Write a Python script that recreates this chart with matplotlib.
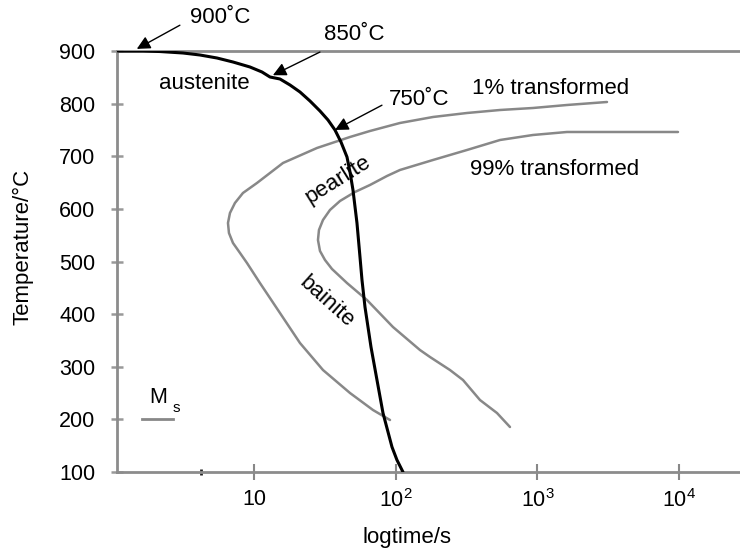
import matplotlib
matplotlib.use("Agg")
import matplotlib.pyplot as plt

# ---- data ----
# cooling curve (time s, temperature °C)
cool_t = [1.097, 1.647, 2.171, 3.155, 4.158, 5.482, 7.108, 9.371, 11.39, 12.97, 15.26,
          17.96, 21.12, 24.85, 29.23, 33.29, 37.29, 41.11, 45.33, 47.60, 49.96, 53.31,
          55.99, 57.84, 60.73, 66.96, 73.80, 81.36, 94.18, 102.1, 112.6]
cool_T = [900, 900, 899, 896.2, 892.4, 886.7, 879.1, 869.6, 860.1, 850.6, 846.8,
          835.4, 822.1, 805.0, 786.0, 768.9, 749.9, 727.1, 698.6, 670.1, 635.9, 573.2,
          508.6, 464.9, 413.5, 337.5, 274.8, 212.1, 147.5, 122.8, 100]

# 1 % transformed curve
start_t = [3099, 1618, 931, 545, 318.6, 183.4, 107.2, 65.87, 47.60, 27.84, 16.02,
           10.50, 8.36, 7.34, 6.77, 6.555, 6.66, 7.11, 7.97, 8.93, 11.02, 15.26,
           21.12, 30.69, 47.60, 69.16, 91.17]
start_T = [803.1, 797.4, 791.7, 787.9, 782.2, 774.6, 763.2, 748.0, 736.6, 715.7, 687.2,
           649.2, 630.2, 611.2, 592.2, 573.2, 554.2, 535.2, 516.2, 497.1, 459.1, 402.1,
           345.1, 293.8, 250.1, 217.8, 198.8]

# 99 % transformed curve
finish_t = [9821, 4727, 2766, 1618, 931, 545, 318.6, 183.4, 107.2, 86.83, 65.87, 51.61,
            40.46, 34.38, 30.69, 28.75, 28.29, 29.23, 31.70, 35.52, 45.33, 62.72, 95.70,
            148.4, 174.7, 241.6, 298.6, 393.4, 518.7, 640.6]
finish_T = [746.1, 746.1, 746.1, 746.1, 740.4, 730.9, 711.9, 692.9, 673.9, 662.5, 645.4,
            632.1, 615.0, 597.9, 578.9, 559.9, 540.9, 520.0, 502.9, 485.8, 459.1, 426.8,
            375.5, 331.8, 318.5, 293.8, 274.8, 236.8, 212.1, 185.5]

# Ms line
ms_t = [1.62, 2.68]
ms_T = [200, 200]

xticks = [10, 100, 1000, 10000]
xtick_labels = ["10", r"$\mathregular{10^{2}}$", r"$\mathregular{10^{3}}$", r"$\mathregular{10^{4}}$"]
yticks = [100, 200, 300, 400, 500, 600, 700, 800, 900]

plt.rcParams['font.family'] = ['Liberation Sans', 'DejaVu Sans']
plt.rcParams['mathtext.fontset'] = 'custom'
plt.rcParams['mathtext.rm'] = 'Liberation Sans'

fig = plt.figure(figsize=(7.4, 5.55), dpi=100)
ax = fig.add_axes([117/740, 1-472/555, 623/740, 421/555])

gray = '#888888'
ax.plot(start_t, start_T, color=gray, lw=1.8, solid_capstyle='round', solid_joinstyle='round')
ax.plot(finish_t, finish_T, color=gray, lw=1.8, solid_capstyle='round', solid_joinstyle='round')
ax.plot(ms_t, ms_T, color=gray, lw=2.0)
ax.plot(cool_t, cool_T, color='black', lw=2.2, solid_capstyle='round',
        solid_joinstyle='round', zorder=5)

ax.set_xscale('log')
ax.set_xlim(1.08, 26900)
ax.set_ylim(100, 900)

ax.set_xticks(xticks)
ax.set_xticklabels(xtick_labels)
ax.set_xticks([4.2], minor=True)
ax.set_yticks(yticks)
ax.tick_params(axis='x', which='major', direction='inout', length=11, width=1.5,
               color='#888888', pad=7, labelsize=15.5)
ax.tick_params(axis='x', which='minor', direction='inout', length=5, width=2,
               color='#222222', labelbottom=False)
ax.tick_params(axis='y', direction='inout', length=9, width=1.8,
               color='#999999', pad=11, labelsize=15.5)

for s in ['left', 'bottom', 'top']:
    ax.spines[s].set_color('#8c8c8c')
    ax.spines[s].set_linewidth(2.0)
ax.spines['right'].set_visible(False)

txt = dict(fontsize=16, color='black', ha='center', va='center')
arrow = dict(arrowstyle='-|>', color='black', lw=1.0, mutation_scale=20,
             shrinkA=0, shrinkB=0)

ax.annotate('', xy=(1.49, 904), xytext=(3.0, 949), arrowprops=arrow, annotation_clip=False)
ax.text(5.75, 963, '900˚C', clip_on=False, **txt)
ax.annotate('', xy=(13.6, 854), xytext=(29.2, 898), arrowprops=arrow, annotation_clip=False)
ax.text(50.8, 932, '850˚C', clip_on=False, **txt)
ax.annotate('', xy=(37.3, 750), xytext=(80, 797), arrowprops=arrow, annotation_clip=False)
ax.text(146, 807, '750˚C', **txt)

ax.text(4.44, 839, 'austenite', **txt)
ax.text(1247, 828, '1% transformed', **txt)
ax.text(1331, 674, '99% transformed', **txt)
ax.text(39.2, 655, 'pearlite', rotation=32, **txt)
ax.text(32.7, 423, 'bainite', rotation=-42, **txt)
ax.text(2.12, 242, 'M', fontsize=15.5, ha='center', va='center')
ax.text(2.85, 222, 's', fontsize=11, ha='center', va='center')

fig.text(23/740, 1-247/555, 'Temperature/°C', rotation=90, fontsize=16,
         ha='center', va='center')
fig.text(407/740, 1-538/555, 'logtime/s', fontsize=16, ha='center', va='center')

fig.savefig('out.png', dpi=100)
